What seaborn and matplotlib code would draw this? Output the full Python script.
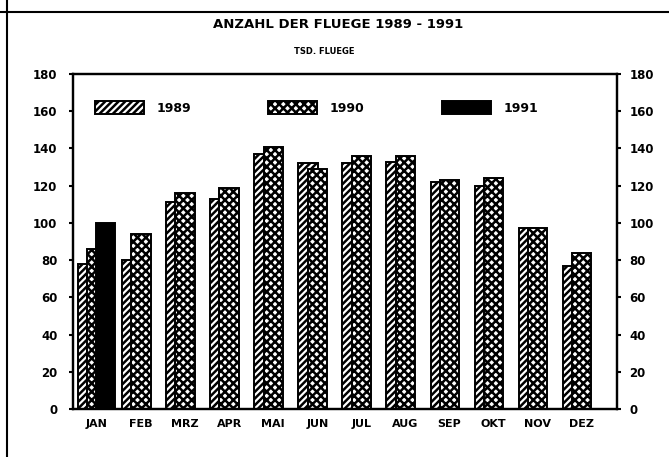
import numpy as np
import pandas as pd
import seaborn as sns
import matplotlib.pyplot as plt
from matplotlib.patches import Patch
from matplotlib.lines import Line2D

months = ['JAN', 'FEB', 'MRZ', 'APR', 'MAI', 'JUN', 'JUL', 'AUG', 'SEP', 'OKT', 'NOV', 'DEZ']
v1989 = [78, 80, 111, 113, 137, 132, 132, 133, 122, 120, 97, 77]
v1990 = [86, 94, 116, 119, 141, 129, 136, 136, 123, 124, 97, 84]
v1991 = [100]
yticks = [0, 20, 40, 60, 80, 100, 120, 140, 160, 180]

sns.set_style('white')
plt.rcParams['font.family'] = ['DejaVu Sans']
plt.rcParams['font.weight'] = 'bold'
plt.rcParams['text.color'] = 'black'
plt.rcParams['xtick.color'] = 'black'
plt.rcParams['ytick.color'] = 'black'
plt.rcParams['hatch.linewidth'] = 1.8

fig = plt.figure(figsize=(6.69, 4.57), dpi=100)
ax = fig.add_axes([0.1087, 0.105, 0.8135, 0.733])

idx = np.arange(len(months))
df89 = pd.DataFrame({'x': idx - 0.21, 'y': v1989})
df90 = pd.DataFrame({'x': idx, 'y': v1990})
df91 = pd.DataFrame({'x': idx[:len(v1991)] + 0.2, 'y': v1991})

# overlapping bars, later years drawn on top
w = 0.44
sns.barplot(data=df89, x='x', y='y', native_scale=True, width=w, color='white',
            saturation=1, edgecolor='black', linewidth=1.4, hatch='/////', ax=ax)
sns.barplot(data=df90, x='x', y='y', native_scale=True, width=w, color='white',
            saturation=1, edgecolor='black', linewidth=1.4, hatch='xxxx', ax=ax)
sns.barplot(data=df91, x='x', y='y', native_scale=True, width=w, color='black',
            saturation=1, edgecolor='black', linewidth=1.4, ax=ax)

ax.set_xlim(-0.55, 11.8)
ax.set_ylim(0, 180)
ax.set_xticks(idx)
ax.set_xticklabels(months, fontsize=8, fontweight='bold')
ax.set_yticks(yticks)
ax.set_yticklabels([str(t) for t in yticks], fontsize=8.5, fontweight='bold')
ax.set_xlabel('')
ax.set_ylabel('')
ax.tick_params(axis='x', length=0, pad=7)
ax.tick_params(axis='y', direction='out', length=3, width=1.5, pad=8, left=True)
for s in ax.spines.values():
    s.set_visible(True)
    s.set_linewidth(1.6)
    s.set_color('black')

ax2 = ax.twinx()
ax2.set_ylim(0, 180)
ax2.set_yticks(yticks)
ax2.set_yticklabels([str(t) for t in yticks], fontsize=8.5, fontweight='bold')
ax2.tick_params(axis='y', direction='out', length=3, width=1.5, pad=6, right=True)
for s in ax2.spines.values():
    s.set_linewidth(1.6)
    s.set_color('black')

handles = [Patch(facecolor='white', edgecolor='black', hatch='/////', linewidth=1.4),
           Patch(facecolor='white', edgecolor='black', hatch='xxxx', linewidth=1.4),
           Patch(facecolor='black', edgecolor='black', linewidth=1.4)]
ax.legend(handles, ['1989', '1990', '1991'], ncol=3, frameon=False,
          loc='center left', bbox_to_anchor=(0.041, 0.899), borderpad=0,
          borderaxespad=0, handlelength=3.9, handleheight=1.3,
          handletextpad=1.0, columnspacing=6.2,
          prop={'size': 9, 'weight': 'bold'})

fig.text(0.505, 1 - 24 / 457, 'ANZAHL DER FLUEGE 1989 - 1991', ha='center',
         va='center', fontsize=9.5, fontweight='bold')
fig.text(0.485, 1 - 52 / 457, 'TSD. FLUEGE', ha='center', va='center',
         fontsize=6, fontweight='bold')

fig.add_artist(Line2D([0, 1], [1 - 12 / 457, 1 - 12 / 457], color='black',
                      linewidth=1.5, transform=fig.transFigure))
fig.add_artist(Line2D([7 / 669, 7 / 669], [0, 1], color='black',
                      linewidth=1.5, transform=fig.transFigure))

fig.savefig('out.png', dpi=100)
